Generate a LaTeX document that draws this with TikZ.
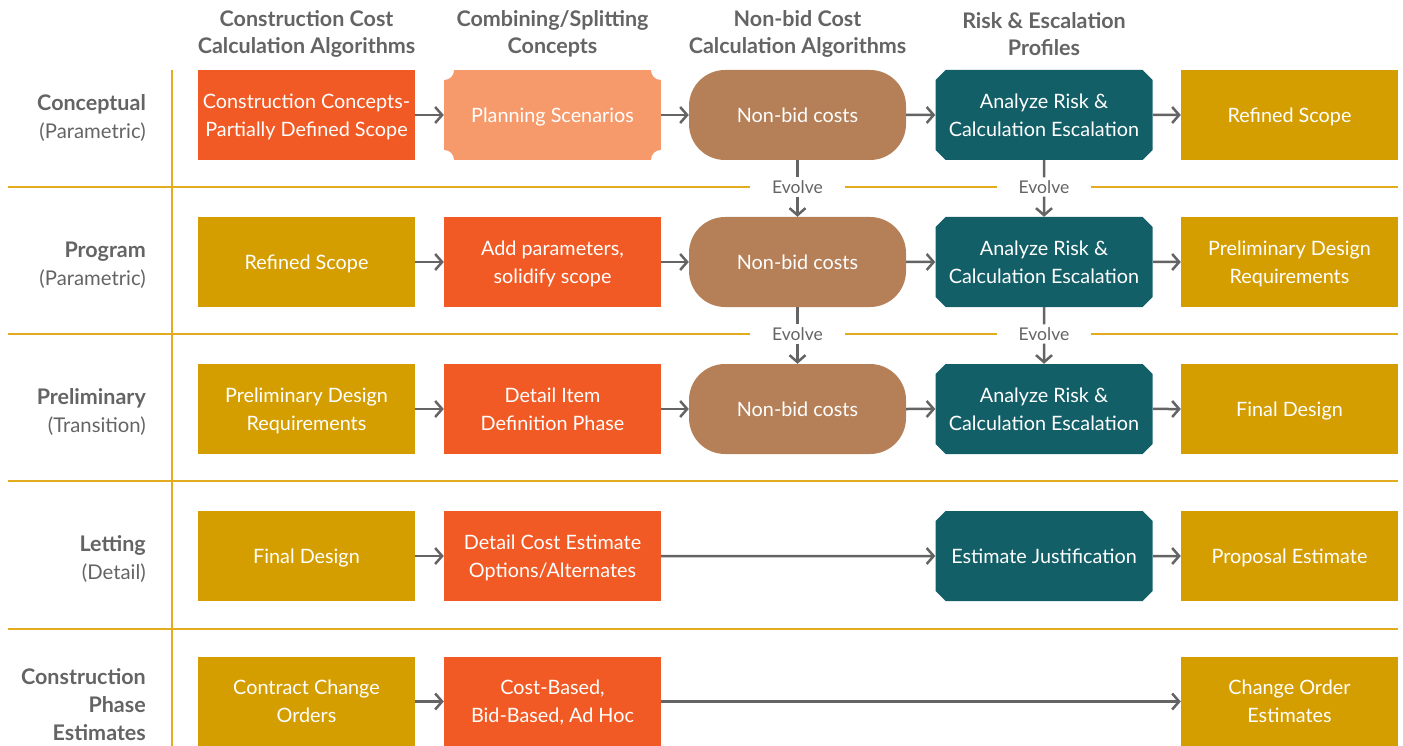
\documentclass[tikz,border=0pt]{standalone}
\usepackage{fontspec}
\setmainfont{Lato}
\usetikzlibrary{arrows.meta,shapes.misc}

\definecolor{flame}{HTML}{F15A24}
\definecolor{salmon}{HTML}{F79A6B}
\definecolor{clay}{HTML}{B58058}
\definecolor{deepteal}{HTML}{135F68}
\definecolor{mustard}{HTML}{D59E00}
\definecolor{gridgold}{HTML}{E3AC1E}
\definecolor{ink}{HTML}{646464}

\newcommand{\phasename}[1]{{\fontsize{21.5}{28}\selectfont\bfseries #1}}

\begin{document}
\begin{tikzpicture}[x=1pt,y=-1pt,
    box/.style={rectangle, minimum width=217pt, minimum height=90pt, inner sep=0pt, text depth=-10pt, text=white, align=center, font=\fontsize{19.8}{28}\selectfont},
    flamebox/.style={box, fill=flame},
    goldbox/.style={box, fill=mustard},
    ticket/.style={box, fill=salmon, path picture={
        \fill[white] (path picture bounding box.north west) circle (10pt);
        \fill[white] (path picture bounding box.north east) circle (10pt);
        \fill[white] (path picture bounding box.south west) circle (10pt);
        \fill[white] (path picture bounding box.south east) circle (10pt);}},
    pill/.style={box, fill=clay, rounded corners=36pt},
    oct/.style={box, chamfered rectangle, chamfered rectangle xsep=5pt, chamfered rectangle ysep=5pt, fill=deepteal},
    head/.style={align=center, text=ink, font=\bfseries\fontsize{21.5}{27.5}\selectfont},
    rowlab/.style={anchor=east, align=right, inner sep=0pt, text=ink, font=\fontsize{20.3}{28}\selectfont},
    evolve/.style={fill=white, text=ink, inner xsep=22pt, inner ysep=3pt, font=\fontsize{17.5}{18}\selectfont},
    gridline/.style={draw=gridgold, line width=1.5pt},
    link/.style={draw=ink, line width=2.5pt, -{Straight Barb[length=7pt,width=16pt]}},
    stem/.style={draw=ink, line width=2.5pt}]
  \useasboundingbox (0,0) rectangle (1403,746);

  % grid
  \draw[gridline] (8,187) -- (1398,187);
  \draw[gridline] (8,334) -- (1398,334);
  \draw[gridline] (8,481) -- (1398,481);
  \draw[gridline] (8,629) -- (1398,629);
  \draw[gridline] (172,70) -- (172,746);

  % column headers
  \node[head] (h1) at (306.5,34) {Construction Cost\\Calculation Algorithms};
  \node[head] (h2) at (552.5,34) {Combining/Splitting\\Concepts};
  \node[head] (h3) at (797.5,34) {Non-bid Cost\\Calculation Algorithms};
  \node[head] (h4) at (1044,34) {Risk \& Escalation\\Profiles};

  % row labels
  \node[rowlab] (r1) at (146,118) {\phasename{Conceptual}\\(Parametric)};
  \node[rowlab] (r2) at (146,265) {\phasename{Program}\\(Parametric)};
  \node[rowlab] (r3) at (146,412) {\phasename{Preliminary}\\(Transition)};
  \node[rowlab] (r4) at (146,559) {\phasename{Letting}\\(Detail)};
  \node[rowlab] (r5) at (146,705) {\phasename{Construction}\\\phasename{Phase}\\\phasename{Estimates}};

  % conceptual
  \node[flamebox] (c11) at (306.5,115) {Construction Concepts-\\Partially Defined Scope};
  \node[ticket] (c12) at (552.5,115) {Planning Scenarios};
  \node[pill] (c13) at (797.5,115) {Non-bid costs};
  \node[oct] (c14) at (1044,115) {Analyze Risk \&\\Calculation Escalation};
  \node[goldbox] (c15) at (1289.5,115) {Refined Scope};

  % program
  \node[goldbox] (c21) at (306.5,262) {Refined Scope};
  \node[flamebox] (c22) at (552.5,262) {Add parameters,\\solidify scope};
  \node[pill] (c23) at (797.5,262) {Non-bid costs};
  \node[oct] (c24) at (1044,262) {Analyze Risk \&\\Calculation Escalation};
  \node[goldbox] (c25) at (1289.5,262) {Preliminary Design\\Requirements};

  % preliminary
  \node[goldbox] (c31) at (306.5,409) {Preliminary Design\\Requirements};
  \node[flamebox] (c32) at (552.5,409) {Detail Item\\Definition Phase};
  \node[pill] (c33) at (797.5,409) {Non-bid costs};
  \node[oct] (c34) at (1044,409) {Analyze Risk \&\\Calculation Escalation};
  \node[goldbox] (c35) at (1289.5,409) {Final Design};

  % letting
  \node[goldbox] (c41) at (306.5,556) {Final Design};
  \node[flamebox] (c42) at (552.5,556) {Detail Cost Estimate\\Options/Alternates};
  \node[oct] (c44) at (1044,556) {Estimate Justification};
  \node[goldbox] (c45) at (1289.5,556) {Proposal Estimate};

  % construction phase
  \node[goldbox] (c51) at (306.5,701.5) {Contract Change\\Orders};
  \node[flamebox] (c52) at (552.5,701.5) {Cost-Based,\\Bid-Based, Ad Hoc};
  \node[goldbox] (c55) at (1289.5,701.5) {Change Order\\Estimates};

  % evolve labels
  \node[evolve] (e1) at (797.5,187) {Evolve};
  \node[evolve] (e2) at (1044,187) {Evolve};
  \node[evolve] (e3) at (797.5,334) {Evolve};
  \node[evolve] (e4) at (1044,334) {Evolve};

  % flow
  \draw[link] (c11) -- (c12);
  \draw[link] (c12) -- (c13);
  \draw[link] (c13) -- (c14);
  \draw[link] (c14) -- (c15);
  \draw[link] (c21) -- (c22);
  \draw[link] (c22) -- (c23);
  \draw[link] (c23) -- (c24);
  \draw[link] (c24) -- (c25);
  \draw[link] (c31) -- (c32);
  \draw[link] (c32) -- (c33);
  \draw[link] (c33) -- (c34);
  \draw[link] (c34) -- (c35);
  \draw[link] (c41) -- (c42);
  \draw[link] (c42) -- (c44);
  \draw[link] (c44) -- (c45);
  \draw[link] (c51) -- (c52);
  \draw[link] (c52) -- (c55);

  % evolve arrows
  \draw[stem] (c13) -- (e1.north);
  \draw[link] (e1.south) -- (c23);
  \draw[stem] (c14) -- (e2.north);
  \draw[link] (e2.south) -- (c24);
  \draw[stem] (c23) -- (e3.north);
  \draw[link] (e3.south) -- (c33);
  \draw[stem] (c24) -- (e4.north);
  \draw[link] (e4.south) -- (c34);
\end{tikzpicture}
\end{document}
